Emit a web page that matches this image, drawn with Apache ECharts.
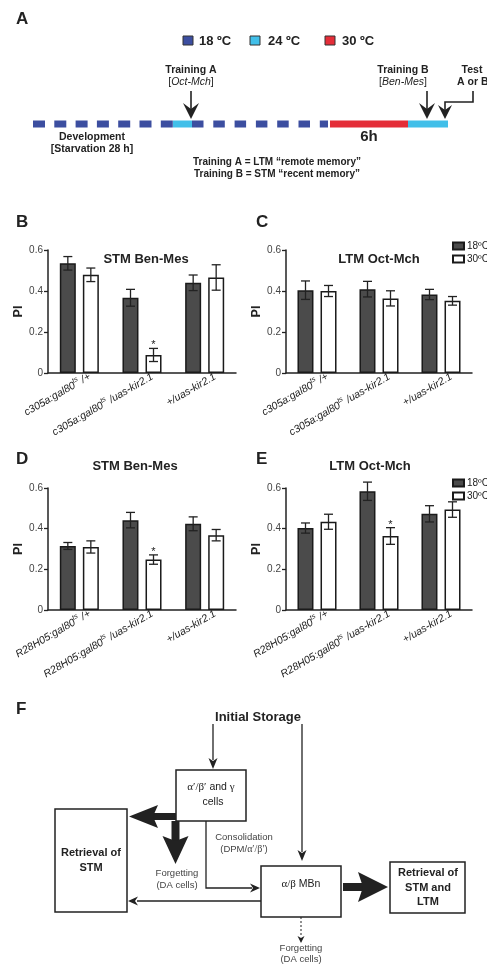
<!DOCTYPE html>
<html>
<head>
<meta charset="utf-8">
<script src="https://cdn.jsdelivr.net/npm/echarts@6/dist/echarts.min.js"></script>
<style>
html, body { margin: 0; padding: 0; background: #fff; }
#main { width: 487px; height: 967px; }
</style>
</head>
<body>
<div id="main"></div>
<script>
// genotypes on the x axes
var catsC305 = ['c305a:gal80ts /+', 'c305a:gal80ts /uas-kir2.1', '+/uas-kir2.1'];
var catsR28 = ['R28H05:gal80ts /+', 'R28H05:gal80ts /uas-kir2.1', '+/uas-kir2.1'];
var temps = ['18ºC', '30ºC'];

// B - STM Ben-Mes, c305a
var stmC305_18 = [0.535, 0.367, 0.440];
var stmC305_18err = [0.033, 0.041, 0.038];
var stmC305_30 = [0.479, 0.088, 0.466];
var stmC305_30err = [0.033, 0.032, 0.062];
var stmC305_sig = [0, 1, 0];
// C - LTM Oct-Mch, c305a
var ltmC305_18 = [0.404, 0.409, 0.383];
var ltmC305_18err = [0.045, 0.038, 0.025];
var ltmC305_30 = [0.400, 0.364, 0.352];
var ltmC305_30err = [0.027, 0.037, 0.021];
var ltmC305_sig = [0, 0, 0];
// D - STM Ben-Mes, R28H05
var stmR28_18 = [0.315, 0.442, 0.424];
var stmR28_18err = [0.017, 0.038, 0.034];
var stmR28_30 = [0.310, 0.248, 0.368];
var stmR28_30err = [0.030, 0.023, 0.028];
var stmR28_sig = [0, 1, 0];
// E - LTM Oct-Mch, R28H05
var ltmR28_18 = [0.403, 0.584, 0.473];
var ltmR28_18err = [0.025, 0.045, 0.040];
var ltmR28_30 = [0.434, 0.364, 0.494];
var ltmR28_30err = [0.037, 0.041, 0.038];
var ltmR28_sig = [0, 1, 0];

var ff = '"Liberation Sans", Arial, Helvetica, sans-serif';
var ink = '#222';
var BAR_W = 16, BAR_OFF = 11.5;

var panels = [
    { title: 'STM Ben-Mes', tx: 141, ty: 248, grid: { left: 48, top: 250, width: 188, height: 123 }, cats: catsC305, a: stmC305_18, ae: stmC305_18err, b: stmC305_30, be: stmC305_30err, sig: stmC305_sig },
    { title: 'LTM Oct-Mch', tx: 374, ty: 248, grid: { left: 286, top: 250, width: 186, height: 123 }, cats: catsC305, a: ltmC305_18, ae: ltmC305_18err, b: ltmC305_30, be: ltmC305_30err, sig: ltmC305_sig },
    { title: 'STM Ben-Mes', tx: 130, ty: 455, grid: { left: 48, top: 488, width: 188, height: 122 }, cats: catsR28, a: stmR28_18, ae: stmR28_18err, b: stmR28_30, be: stmR28_30err, sig: stmR28_sig },
    { title: 'LTM Oct-Mch', tx: 365, ty: 455, grid: { left: 286, top: 488, width: 186, height: 122 }, cats: catsR28, a: ltmR28_18, ae: ltmR28_18err, b: ltmR28_30, be: ltmR28_30err, sig: ltmR28_sig }
];

function geno(v) {
    return '{a|' + v.replace('gal80ts', 'gal80}{s|ts}{a|') + '}';
}

function errBars(offset, sig) {
    return function (params, api) {
        var i = api.value(0), v = api.value(1), e = api.value(2);
        var hi = api.coord([i, v + e]), lo = api.coord([i, v - e]);
        var x = hi[0] + offset, w = 4.5;
        var st = { stroke: ink, lineWidth: 1.3 };
        var kids = [
            { type: 'line', shape: { x1: x, y1: hi[1], x2: x, y2: lo[1] }, style: st },
            { type: 'line', shape: { x1: x - w, y1: hi[1], x2: x + w, y2: hi[1] }, style: st },
            { type: 'line', shape: { x1: x - w, y1: lo[1], x2: x + w, y2: lo[1] }, style: st }
        ];
        if (sig && sig[i]) {
            kids.push({ type: 'text', style: { text: '*', x: x, y: hi[1] - 3, align: 'center', verticalAlign: 'middle', font: '11px ' + ff, fill: ink } });
        }
        return { type: 'group', children: kids };
    };
}

var grids = [], xAxes = [], yAxes = [], series = [], titles = [];
panels.forEach(function (p, k) {
    grids.push(p.grid);
    titles.push({ text: p.title, left: p.tx, top: p.ty, textAlign: 'center',
        textStyle: { fontFamily: ff, fontSize: 13, fontWeight: 'bold', color: ink } });
    xAxes.push({
        type: 'category', gridIndex: k, data: p.cats,
        axisLine: { lineStyle: { color: ink, width: 1.5 } },
        axisTick: { alignWithLabel: true, length: 4, lineStyle: { color: ink, width: 1.3 } },
        axisLabel: {
            rotate: 30, margin: 9, interval: 0, formatter: geno,
            padding: [0, -12, 0, 0],
            rich: {
                a: { fontFamily: ff, fontSize: 10.5, fontStyle: 'italic', color: ink, lineHeight: 15 },
                s: { fontFamily: ff, fontSize: 7, fontStyle: 'italic', color: ink, verticalAlign: 'top', lineHeight: 15 }
            }
        }
    });
    yAxes.push({
        type: 'value', gridIndex: k, min: 0, max: 0.6, interval: 0.2,
        name: 'PI', nameLocation: 'middle', nameGap: 23,
        nameTextStyle: { fontFamily: ff, fontSize: 12.5, fontWeight: 'bold', color: ink },
        axisLine: { show: true, lineStyle: { color: ink, width: 1.5 } },
        axisTick: { show: true, length: 4, lineStyle: { color: ink, width: 1.3 } },
        axisLabel: { fontFamily: ff, fontSize: 10, color: '#444', margin: 5 },
        splitLine: { show: false }
    });
    series.push({
        name: temps[0], type: 'bar', xAxisIndex: k, yAxisIndex: k, data: p.a,
        barWidth: BAR_W, barGap: '44%',
        itemStyle: { color: '#4b4b4b', borderColor: '#1a1a1a', borderWidth: 1.5 }
    });
    series.push({
        name: temps[1], type: 'bar', xAxisIndex: k, yAxisIndex: k, data: p.b,
        barWidth: BAR_W, barGap: '44%',
        itemStyle: { color: '#fff', borderColor: '#1a1a1a', borderWidth: 1.5 }
    });
    series.push({
        name: 'err', type: 'custom', xAxisIndex: k, yAxisIndex: k, z: 5, clip: false,
        renderItem: errBars(-BAR_OFF, null),
        data: p.a.map(function (v, i) { return [i, v, p.ae[i]]; })
    });
    series.push({
        name: 'err', type: 'custom', xAxisIndex: k, yAxisIndex: k, z: 5, clip: false,
        renderItem: errBars(BAR_OFF, p.sig),
        data: p.b.map(function (v, i) { return [i, v, p.be[i]]; })
    });
});

// ---- drawing helpers for panels A and F ----
function t(x, y, s, size, weight, align, extra) {
    var st = { text: s, x: x, y: y, align: align || 'center', verticalAlign: 'middle',
        font: (weight || 'normal') + ' ' + size + 'px ' + ff, fill: ink };
    if (extra) for (var key in extra) st[key] = extra[key];
    return { type: 'text', style: st, z: 10 };
}
function ln(x1, y1, x2, y2, w, extra) {
    var st = { stroke: ink, lineWidth: w || 1.3 };
    if (extra) for (var key in extra) st[key] = extra[key];
    return { type: 'line', shape: { x1: x1, y1: y1, x2: x2, y2: y2 }, style: st, z: 10 };
}
function box(x, y, w, h, fill, stroke, lw) {
    return { type: 'rect', shape: { x: x, y: y, width: w, height: h },
        style: { fill: fill || 'none', stroke: stroke || ink, lineWidth: lw == null ? 1.5 : lw }, z: 10 };
}
function head(tx, ty, dir, len, hw, notch) {
    var pts;
    if (dir === 'down') pts = [[tx - hw, ty - len], [tx, ty], [tx + hw, ty - len], [tx, ty - len + notch]];
    else if (dir === 'left') pts = [[tx + len, ty - hw], [tx, ty], [tx + len, ty + hw], [tx + len - notch, ty]];
    else pts = [[tx - len, ty - hw], [tx, ty], [tx - len, ty + hw], [tx - len + notch, ty]];
    return { type: 'polygon', shape: { points: pts }, style: { fill: ink }, z: 10 };
}

var dkBlue = '#3c4ea0', ltBlue = '#41bfe9', red = '#e42d38';
var greek = { g: { fontFamily: '"Liberation Serif", "DejaVu Serif", serif', fontSize: 11, fill: ink } };
var ital = { i: { fontFamily: ff, fontSize: 10.5, fontStyle: 'italic', fill: ink } };

var gfx = [
    // panel letters
    t(16, 19, 'A', 17, 'bold', 'left'),
    t(16, 222, 'B', 17, 'bold', 'left'),
    t(256, 222, 'C', 17, 'bold', 'left'),
    t(16, 459, 'D', 17, 'bold', 'left'),
    t(256, 459, 'E', 17, 'bold', 'left'),
    t(16, 709, 'F', 17, 'bold', 'left'),

    // panel A: temperature key
    box(183, 36, 10, 9, dkBlue, '#333', 1),
    t(199, 41, '18 ºC', 13, '600', 'left'),
    box(250, 36, 10, 9, ltBlue, '#333', 1),
    t(268, 41, '24 ºC', 13, '600', 'left'),
    box(325, 36, 10, 9, red, '#333', 1),
    t(342, 41, '30 ºC', 13, '600', 'left'),

    // panel A: timeline
    ln(33, 124, 173, 124, 7, { stroke: dkBlue, lineDash: [12, 9.3] }),
    box(173, 120.5, 19, 7, ltBlue, 'none', 0),
    ln(192, 124, 328, 124, 7, { stroke: dkBlue, lineDash: [11.5, 9.8] }),
    box(330, 120.5, 78, 7, red, 'none', 0),
    box(408, 120.5, 40, 7, ltBlue, 'none', 0),

    t(191, 70, 'Training A', 10.5, 'bold'),
    t(191, 82, '[{i|Oct-Mch}]', 10.5, 'normal', 'center', { rich: ital }),
    ln(191, 91, 191, 110, 1.6),
    head(191, 119, 'down', 16, 8, 6),
    t(403, 70, 'Training B', 10.5, 'bold'),
    t(403, 82, '[{i|Ben-Mes}]', 10.5, 'normal', 'center', { rich: ital }),
    ln(427, 91, 427, 110, 1.6),
    head(427, 119, 'down', 16, 8, 6),
    t(472, 70, 'Test', 10.5, 'bold'),
    t(457, 82, 'A or B', 10.5, 'bold', 'left'),
    { type: 'polyline', shape: { points: [[473, 91], [473, 102], [445, 102], [445, 110]] }, style: { stroke: ink, lineWidth: 1.6, fill: null }, z: 10 },
    head(445, 119, 'down', 14, 7, 5),

    t(92, 137, 'Development', 10.5, 'bold'),
    t(92, 149, '[Starvation 28 h]', 10.5, 'bold'),
    t(369, 137, '6h', 15, 'bold'),
    t(277, 162, 'Training A = LTM “remote memory”', 10, 'bold'),
    t(277, 174, 'Training B = STM “recent memory”', 10, 'bold'),

    // panel F: model
    t(258, 717, 'Initial Storage', 13, 'bold'),
    ln(213, 724, 213, 760),
    head(213, 769, 'down', 11, 4.5, 3),
    ln(302, 724, 302, 852),
    head(302, 861, 'down', 11, 4.5, 3),

    box(176, 770, 70, 51),
    t(211, 787, '{g|α′/β′} and {g|γ}', 10.5, 'normal', 'center', { rich: greek }),
    t(213, 802, 'cells', 10.5, 'normal'),

    { type: 'rect', shape: { x: 152, y: 813, width: 24, height: 7 }, style: { fill: ink }, z: 10 },
    head(129, 816.5, 'left', 29, 11.5, 5),
    { type: 'rect', shape: { x: 171.5, y: 821, width: 8, height: 20 }, style: { fill: ink }, z: 10 },
    head(175.5, 864, 'down', 28, 13, 5),
    t(177, 873, 'Forgetting', 9.5, 'normal', 'center', { fill: '#444' }),
    t(177, 885, '(DA cells)', 9.5, 'normal', 'center', { fill: '#444' }),

    { type: 'polyline', shape: { points: [[206, 821], [206, 888], [252, 888]] }, style: { stroke: ink, lineWidth: 1.3, fill: null }, z: 10 },
    head(260, 888, 'right', 10, 4.5, 3),
    t(244, 837, 'Consolidation', 9.5, 'normal', 'center', { fill: '#444' }),
    t(244, 849, '(DPM/{g|α′/β′})', 9.5, 'normal', 'center', { fill: '#444', rich: { g: { fontFamily: '"Liberation Serif", serif', fontSize: 10, fill: '#444' } } }),

    box(55, 809, 72, 103),
    t(91, 853, 'Retrieval of', 11, 'bold'),
    t(91, 868, 'STM', 11, 'bold'),

    box(261, 866, 80, 51),
    t(301, 884, '{g|α/β} MBn', 10.5, 'normal', 'center', { rich: greek }),
    ln(261, 901, 137, 901),
    head(128, 901, 'left', 10, 4.5, 3),

    { type: 'rect', shape: { x: 343, y: 883, width: 20, height: 8 }, style: { fill: ink }, z: 10 },
    head(388, 887, 'right', 30, 15, 5),
    box(390, 862, 75, 51),
    t(428, 873, 'Retrieval of', 11, 'bold'),
    t(428, 888, 'STM and', 11, 'bold'),
    t(428, 902, 'LTM', 11, 'bold'),

    ln(301, 917, 301, 937, 1, { lineDash: [2, 2] }),
    head(301, 943, 'down', 7, 3.5, 2),
    t(301, 948, 'Forgetting', 9.5, 'normal', 'center', { fill: '#444' }),
    t(301, 959, '(DA cells)', 9.5, 'normal', 'center', { fill: '#444' })
];

var legendBase = {
    orient: 'vertical', data: temps, itemWidth: 11, itemHeight: 7, itemGap: 3,
    selectedMode: false, icon: 'rect',
    textStyle: { fontFamily: ff, fontSize: 10, color: ink, padding: [0, 0, 0, -2] }
};

var chart = echarts.init(document.getElementById('main'), null, { renderer: 'canvas' });
chart.setOption({
    backgroundColor: '#fff',
    animation: false,
    title: titles,
    legend: [
        Object.assign({ left: 447, top: 236 }, legendBase),
        Object.assign({ left: 447, top: 473 }, legendBase)
    ],
    grid: grids,
    xAxis: xAxes,
    yAxis: yAxes,
    series: series,
    graphic: { elements: gfx }
});
</script>
</body>
</html>
